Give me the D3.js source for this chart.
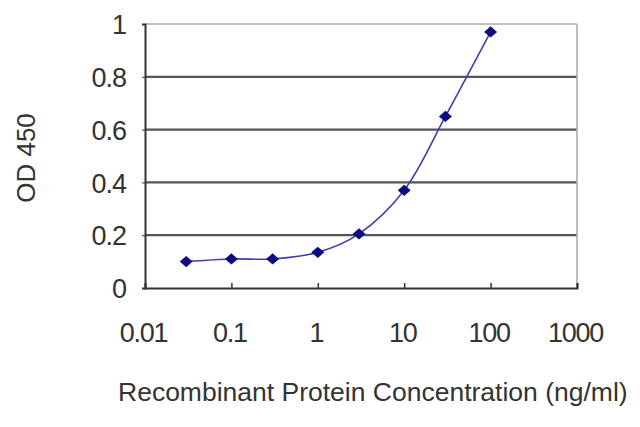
<!DOCTYPE html>
<html>
<head>
<meta charset="utf-8">
<script src="https://cdn.jsdelivr.net/npm/d3@7"></script>
<style>
  html, body { margin: 0; padding: 0; background: #fff; }
  svg { display: block; }
  text { font-family: "Liberation Sans", Arial, sans-serif; fill: #333; }
</style>
</head>
<body>
<svg id="chart" width="640" height="427"></svg>
<script>
// concentrations (ng/ml) and OD 450 readings
const conc = [0.03, 0.1, 0.3, 1, 3, 10, 30, 100];
const od = [0.10, 0.11, 0.11, 0.135, 0.205, 0.37, 0.65, 0.97];
const xTicks = [0.01, 0.1, 1, 10, 100, 1000];
const xTickLabels = ["0.01", "0.1", "1", "10", "100", "1000"];
const yTicks = [0, 0.2, 0.4, 0.6, 0.8, 1];
const yTickLabels = ["0", "0.2", "0.4", "0.6", "0.8", "1"];

const svg = d3.select("#chart");
const plotLeft = 145, plotRight = 577, plotTop = 24, plotBottom = 288;

const x = d3.scaleLog().domain([0.01, 1000]).range([plotLeft, plotRight]);
const y = d3.scaleLinear().domain([0, 1]).range([plotBottom, plotTop]);

// gridlines
svg.append("g")
  .selectAll("line")
  .data(yTicks.filter(d => d > 0 && d < 1))
  .join("line")
  .attr("x1", plotLeft).attr("x2", plotRight)
  .attr("y1", d => y(d)).attr("y2", d => y(d))
  .attr("stroke", "#555")
  .attr("stroke-width", 2.2);

// frame: top and right lighter
svg.append("line").attr("x1", plotLeft).attr("x2", plotRight).attr("y1", plotTop).attr("y2", plotTop)
  .attr("stroke", "#aaa").attr("stroke-width", 1.5);
svg.append("line").attr("x1", plotRight).attr("x2", plotRight).attr("y1", plotTop).attr("y2", plotBottom)
  .attr("stroke", "#aaa").attr("stroke-width", 1.5);

// y axis
const yAxis = svg.append("g")
  .attr("transform", `translate(${plotLeft},0)`)
  .call(d3.axisLeft(y).tickValues(yTicks).tickSize(3).tickFormat((d, i) => yTickLabels[i]));
yAxis.select(".domain").attr("stroke", "#333").attr("stroke-width", 2);
yAxis.selectAll(".tick line").attr("stroke", "#333");
yAxis.selectAll(".tick text")
  .attr("x", -19)
  .attr("dy", "0.36em")
  .style("font-size", "27px")
  .style("letter-spacing", "-1px")
  .style("font-family", "'Liberation Sans', Arial, sans-serif")
  .attr("fill", "#333");

// x axis, ticks point inward
const xAxis = svg.append("g")
  .attr("transform", `translate(0,${plotBottom})`)
  .call(d3.axisBottom(x).tickValues(xTicks).tickSize(-5).tickFormat((d, i) => xTickLabels[i]));
xAxis.select(".domain").attr("stroke", "#333").attr("stroke-width", 2);
xAxis.selectAll(".tick line").attr("stroke", "#333").attr("stroke-width", 1.5);
xAxis.selectAll(".tick text")
  .attr("y", 54)
  .attr("dy", 0)
  .attr("dx", -2)
  .style("font-size", "27px")
  .style("letter-spacing", "-1.3px")
  .style("font-family", "'Liberation Sans', Arial, sans-serif")
  .attr("fill", "#333");

// axis titles
svg.append("text")
  .attr("x", 118).attr("y", 401)
  .style("font-size", "26.5px")
  .text("Recombinant Protein Concentration (ng/ml)");

svg.append("text")
  .attr("transform", "translate(35,158) rotate(-90)")
  .attr("text-anchor", "middle")
  .style("font-size", "26px")
  .text("OD 450");

// curve
const pts = conc.map((c, i) => [c, od[i]]);
svg.append("path")
  .datum(pts)
  .attr("fill", "none")
  .attr("stroke", "#4040a8")
  .attr("stroke-width", 1.6)
  .attr("d", d3.line().x(d => x(d[0])).y(d => y(d[1])).curve(d3.curveCatmullRom.alpha(0.5)));

// markers: square turned 45 degrees, a little wider than tall
svg.append("g")
  .selectAll("path")
  .data(pts)
  .join("path")
  .attr("transform", d => `translate(${x(d[0])},${y(d[1])}) scale(1.15,1) rotate(45)`)
  .attr("d", d3.symbol().type(d3.symbolSquare).size(64))
  .attr("fill", "#0c0c80");
</script>
</body>
</html>
